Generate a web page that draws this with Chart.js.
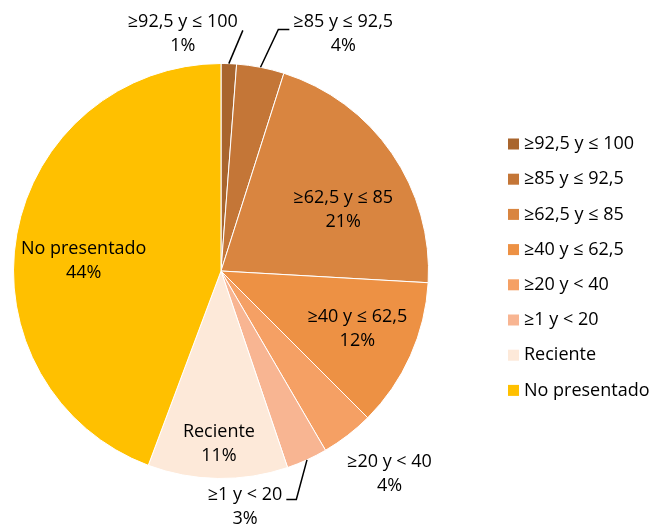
<!DOCTYPE html>
<html>
<head>
<meta charset="utf-8">
<script src="https://cdn.jsdelivr.net/npm/chart.js@4"></script>
<style>
  html, body { margin: 0; padding: 0; background: #fff; }
  #wrap { width: 654px; height: 525px; position: relative; }
</style>
</head>
<body>
<div id="wrap"><canvas id="pieChart" width="654" height="525"></canvas></div>
<script>
// categorias y valores (%)
let categories = ['≥92,5 y ≤ 100', '≥85 y ≤ 92,5', '≥62,5 y ≤ 85', '≥40 y ≤ 62,5', '≥20 y < 40', '≥1 y < 20', 'Reciente', 'No presentado'];
let values = [1.2, 3.7, 21.0, 11.6, 4.1, 3.2, 10.9, 44.3];
let sliceColors = ['#a9652d', '#c47637', '#d98540', '#ed9144', '#f5a064', '#f8b592', '#fde9d9', '#ffc000'];

// posicion de las etiquetas respecto al centro, en radios
let labelAt = [
    [-0.184, -1.145], [0.589, -1.145], [0.589, -0.295], [0.657, 0.280],
    [0.812, 0.976], [0.116, 1.135], [-0.010, 0.831], [-0.662, -0.048]
];
// lineas guia: 0 = sin linea, 1 = sale por la derecha, -1 = por la izquierda
let leader = [1, -1, 0, 0, 0, 1, 0, 0];

const FONT = '18px "Open Sans", "Liberation Sans", sans-serif';

const labelPlugin = {
    id: 'sliceLabels',
    afterDatasetsDraw(chart) {
        let ctx = chart.ctx;
        let meta = chart.getDatasetMeta(0);
        ctx.save();
        ctx.font = FONT;
        ctx.fillStyle = '#000';
        ctx.textAlign = 'center';
        ctx.textBaseline = 'middle';
        meta.data.forEach((arc, i) => {
            let p = arc.getProps(['x', 'y', 'startAngle', 'endAngle', 'outerRadius'], true);
            let r = p.outerRadius;
            let lx = p.x + labelAt[i][0] * r;
            let ly = p.y + labelAt[i][1] * r;
            let pct = Math.round(values[i]) + '%';
            ctx.fillText(categories[i], lx, ly - 12);
            ctx.fillText(pct, lx, ly + 12);

            if (leader[i] !== 0) {
                let mid = (p.startAngle + p.endAngle) / 2;
                let ex = p.x + Math.cos(mid) * r;
                let ey = p.y + Math.sin(mid) * r;
                let w = ctx.measureText(categories[i]).width;
                ctx.strokeStyle = '#000';
                ctx.lineWidth = 1.5;
                ctx.beginPath();
                ctx.moveTo(ex, ey);
                if (i === 0) {
                    // linea directa hacia la esquina inferior derecha del texto
                    ctx.lineTo(lx + w / 2 + 5, ly - 3);
                } else {
                    let side = leader[i];
                    let hx = side > 0 ? lx + w / 2 + 4 : lx - w / 2 - 4;
                    let kx = side > 0 ? hx + 10 : hx - 11;
                    let ky = i === 5 ? ly - 7 : ly - 4;
                    ctx.lineTo(kx, ky);
                    ctx.lineTo(hx, ky);
                }
                ctx.stroke();
            }
        });
        ctx.restore();
    }
};

const legendPlugin = {
    id: 'sideLegend',
    afterDraw(chart) {
        let ctx = chart.ctx;
        ctx.save();
        ctx.font = FONT;
        ctx.textAlign = 'left';
        ctx.textBaseline = 'middle';
        categories.forEach((name, i) => {
            let y = 144 + i * 35.2;
            ctx.fillStyle = sliceColors[i];
            ctx.fillRect(508, y - 5.5, 11, 11);
            ctx.fillStyle = '#000';
            ctx.fillText(name, 524, y);
        });
        ctx.restore();
    }
};

new Chart(document.getElementById('pieChart'), {
    type: 'pie',
    data: {
        labels: categories,
        datasets: [{
            data: values,
            backgroundColor: sliceColors,
            borderColor: '#ffffff',
            borderWidth: 1
        }]
    },
    options: {
        responsive: false,
        animation: false,
        layout: { padding: { left: 13, right: 225, top: 63, bottom: 46 } },
        plugins: {
            legend: { display: false },
            tooltip: { enabled: false }
        }
    },
    plugins: [labelPlugin, legendPlugin]
});
</script>
</body>
</html>
